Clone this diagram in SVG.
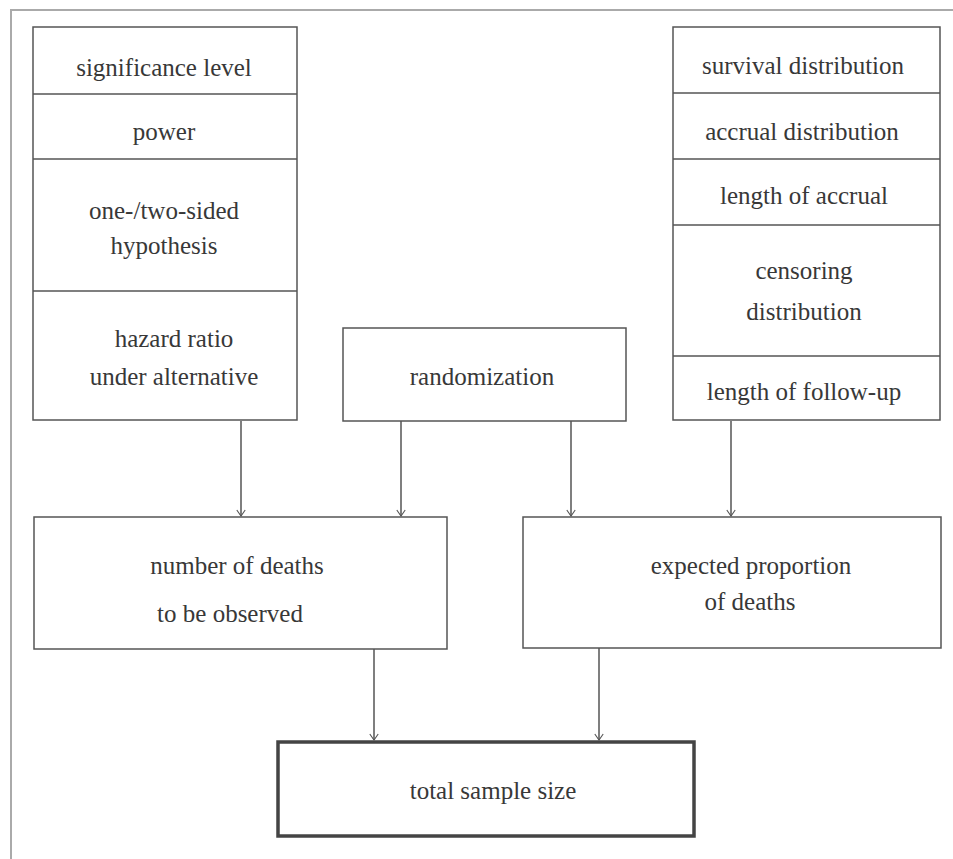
<svg xmlns="http://www.w3.org/2000/svg" width="953" height="859" viewBox="0 0 953 859">
<style>
.box{fill:#fff;stroke:#555;stroke-width:1.5}
.thick{fill:#fff;stroke:#444;stroke-width:3.5}
.div{stroke:#555;stroke-width:1.5}
.frame{stroke:#aaa;stroke-width:2;fill:none}
text{font-family:'Liberation Serif','DejaVu Serif',serif;font-size:25px;fill:#383838;text-anchor:middle}
.con{stroke:#555;stroke-width:1.5;fill:none;marker-end:url(#ah)}
</style>
<defs>
<marker id="ah" viewBox="0 0 10 20" refX="10" refY="10" markerWidth="8" markerHeight="12" orient="auto" markerUnits="userSpaceOnUse">
<path d="M0,3 L10,10 L0,17" fill="none" stroke="#555" stroke-width="1.8"/>
</marker>
</defs>
<rect width="953" height="859" fill="#fff"/>
<path class="frame" d="M11,859 L11,10 L953,10"/>
<g id="left-params">
<rect class="box" x="33" y="27" width="264" height="393"/>
<line class="div" x1="33" y1="94" x2="297" y2="94"/>
<line class="div" x1="33" y1="159" x2="297" y2="159"/>
<line class="div" x1="33" y1="291" x2="297" y2="291"/>
<text x="164" y="76">significance level</text>
<text x="164" y="140">power</text>
<text x="164" y="219">one-/two-sided</text>
<text x="164" y="254">hypothesis</text>
<text x="174" y="347">hazard ratio</text>
<text x="174" y="385">under alternative</text>
</g>
<g id="right-params">
<rect class="box" x="673" y="27" width="267" height="393"/>
<line class="div" x1="673" y1="93" x2="940" y2="93"/>
<line class="div" x1="673" y1="159" x2="940" y2="159"/>
<line class="div" x1="673" y1="225" x2="940" y2="225"/>
<line class="div" x1="673" y1="356" x2="940" y2="356"/>
<text x="803" y="74">survival distribution</text>
<text x="802" y="140">accrual distribution</text>
<text x="804" y="204">length of accrual</text>
<text x="804" y="279">censoring</text>
<text x="804" y="320">distribution</text>
<text x="804" y="400">length of follow-up</text>
</g>
<g id="randomization">
<rect class="box" x="343" y="328" width="283" height="93"/>
<text x="482" y="385">randomization</text>
</g>
<g id="deaths">
<rect class="box" x="34" y="517" width="413" height="132"/>
<text x="237" y="574">number of deaths</text>
<text x="230" y="622">to be observed</text>
</g>
<g id="proportion">
<rect class="box" x="523" y="517" width="418" height="131"/>
<text x="751" y="574">expected proportion</text>
<text x="750" y="610">of deaths</text>
</g>
<g id="total">
<rect class="thick" x="278" y="742" width="416" height="94"/>
<text x="493" y="799">total sample size</text>
</g>
<g id="connectors">
<line class="con" x1="241" y1="421" x2="241" y2="516"/>
<line class="con" x1="401" y1="421" x2="401" y2="516"/>
<line class="con" x1="571" y1="421" x2="571" y2="516"/>
<line class="con" x1="731" y1="421" x2="731" y2="516"/>
<line class="con" x1="374" y1="649" x2="374" y2="740"/>
<line class="con" x1="599" y1="648" x2="599" y2="740"/>
</g>
</svg>
